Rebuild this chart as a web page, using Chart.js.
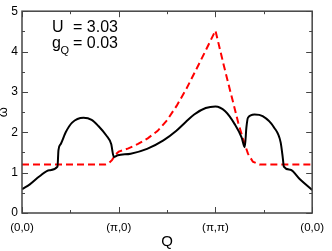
<!DOCTYPE html>
<html>
<head>
<meta charset="utf-8">
<script src="https://cdn.jsdelivr.net/npm/chart.js@4/dist/chart.umd.min.js"></script>
<style>
html,body{margin:0;padding:0;background:#fff;}
#wrap{width:332px;height:251px;}
</style>
</head>
<body>
<div id="wrap"><canvas id="c" width="332" height="251"></canvas></div>
<script>
// Path positions of high-symmetry points and their labels
const pathPos = [0, 1, 2, 3];
const pathLabels = ['(0,0)', '(π,0)', '(π,π)', '(0,0)'];
const yTickValues = [0, 1, 2, 3, 4, 5];

// Solid black curve (omega vs Q)
const blackX = [0, 0.081, 0.182, 0.283, 0.367, 0.377, 0.401, 0.452, 0.518, 0.636, 0.72, 0.788, 0.872, 0.922, 0.949, 0.99, 1.124, 1.293, 1.462, 1.596, 1.69, 1.78, 1.899, 2.0, 2.101, 2.202, 2.27, 2.303, 2.32, 2.336, 2.404, 2.488, 2.606, 2.674, 2.697, 2.707, 2.775, 2.876, 3.0];
const blackY = [0.59, 0.71, 0.91, 1.06, 1.15, 1.56, 1.71, 2.0, 2.24, 2.36, 2.31, 2.16, 1.92, 1.71, 1.39, 1.43, 1.47, 1.59, 1.80, 2.04, 2.25, 2.44, 2.6, 2.64, 2.52, 2.19, 1.875, 1.63, 2.12, 2.36, 2.44, 2.40, 2.12, 1.75, 1.35, 1.15, 1.07, 0.83, 0.57];

// Dashed red curve
const redX = [0, 0.86, 0.9, 0.93, 0.949, 0.957, 1.0, 1.1, 1.2, 1.3, 1.4, 1.5, 1.6, 1.7, 1.8, 1.9, 2.0, 2.084, 2.134, 2.185, 2.235, 2.286, 2.336, 2.387, 2.455, 3.0];
const redY = [1.2, 1.2, 1.24, 1.31, 1.38, 1.43, 1.52, 1.60, 1.71, 1.85, 2.03, 2.30, 2.66, 3.08, 3.55, 4.03, 4.52, 3.68, 3.20, 2.72, 2.24, 1.83, 1.47, 1.27, 1.2, 1.2];

const FONT = "'Liberation Sans', Arial, Helvetica, sans-serif";
const AXIS_COLOR = '#444';

const toPts = (xs, ys) => xs.map((x, i) => ({x: x, y: ys[i]}));

const framePlugin = {
  id: 'frame',
  afterDatasetsDraw(chart) {
    const ctx = chart.ctx;
    const a = chart.chartArea;
    const xs = chart.scales.x, ys = chart.scales.y;
    ctx.save();
    ctx.strokeStyle = AXIS_COLOR;
    ctx.lineWidth = 1.5;
    ctx.strokeRect(a.left, a.top, a.right - a.left, a.bottom - a.top);
    ctx.lineWidth = 1;
    ctx.beginPath();
    for (let v = 0; v <= 5.001; v += 0.5) {
      const major = Math.abs(v - Math.round(v)) < 1e-6;
      const len = major ? 6 : 3;
      const py = Math.round(ys.getPixelForValue(v)) + 0.5;
      ctx.moveTo(a.left, py); ctx.lineTo(a.left + len, py);
      ctx.moveTo(a.right, py); ctx.lineTo(a.right - len, py);
    }
    for (let v = 0; v <= 3.001; v += 0.5) {
      const major = Math.abs(v - Math.round(v)) < 1e-6;
      const len = major ? 6 : 3;
      const px = Math.round(xs.getPixelForValue(v)) + 0.5;
      ctx.moveTo(px, a.bottom); ctx.lineTo(px, a.bottom - len);
      ctx.moveTo(px, a.top); ctx.lineTo(px, a.top + len);
    }
    ctx.stroke();
    ctx.restore();
  },
  afterDraw(chart) {
    const ctx = chart.ctx;
    const a = chart.chartArea;
    ctx.save();
    ctx.fillStyle = '#000';
    ctx.textBaseline = 'alphabetic';
    ctx.textAlign = 'left';
    ctx.font = '16px ' + FONT;
    const x0 = a.left + 30;
    ctx.fillText('U', x0, a.top + 21);
    ctx.fillText('= 3.03', x0 + 21, a.top + 21);
    ctx.fillText('g', x0, a.top + 37);
    ctx.fillText('= 0.03', x0 + 21, a.top + 37);
    ctx.font = '11px ' + FONT;
    ctx.fillText('Q', x0 + 8.5, a.top + 43);
    ctx.restore();
  }
};

new Chart(document.getElementById('c'), {
  type: 'line',
  data: {
    datasets: [
      {
        label: 'black',
        data: toPts(blackX, blackY),
        borderColor: '#000',
        borderWidth: 2,
        pointRadius: 0,
        fill: false,
        cubicInterpolationMode: 'monotone'
      },
      {
        label: 'red',
        data: toPts(redX, redY),
        borderColor: '#ff0000',
        borderWidth: 2,
        borderDash: [7, 4],
        pointRadius: 0,
        fill: false,
        tension: 0
      }
    ]
  },
  options: {
    responsive: false,
    animation: false,
    devicePixelRatio: 1,
    layout: {padding: {top: 5, right: 13, left: 0, bottom: 0}},
    plugins: {legend: {display: false}, tooltip: {enabled: false}},
    scales: {
      x: {
        type: 'linear',
        min: 0, max: 3,
        afterFit: s => { s.height = 38; },
        afterBuildTicks: s => { s.ticks = pathPos.map(v => ({value: v})); },
        grid: {display: false, drawTicks: false},
        border: {display: false},
        ticks: {
          autoSkip: false, maxRotation: 0, padding: 8,
          color: '#000',
          font: {family: FONT, size: 11.5},
          callback: v => { const i = pathPos.indexOf(v); return i >= 0 ? pathLabels[i] : ''; }
        },
        title: {display: true, text: 'Q', color: '#000', font: {family: FONT, size: 15, lineHeight: 1.2}, padding: {top: 0, bottom: 0}}
      },
      y: {
        type: 'linear',
        min: 0, max: 5,
        afterFit: s => { s.width = 22; },
        afterBuildTicks: s => { s.ticks = yTickValues.map(v => ({value: v})); },
        grid: {display: false, drawTicks: false},
        border: {display: false},
        ticks: {padding: 4, color: '#000', font: {family: FONT, size: 12}},
        title: {display: true, text: 'ω', color: '#000', font: {family: FONT, size: 13, lineHeight: 0.6}, padding: {top: 0, bottom: 0}}
      }
    }
  },
  plugins: [framePlugin]
});
</script>
</body>
</html>
